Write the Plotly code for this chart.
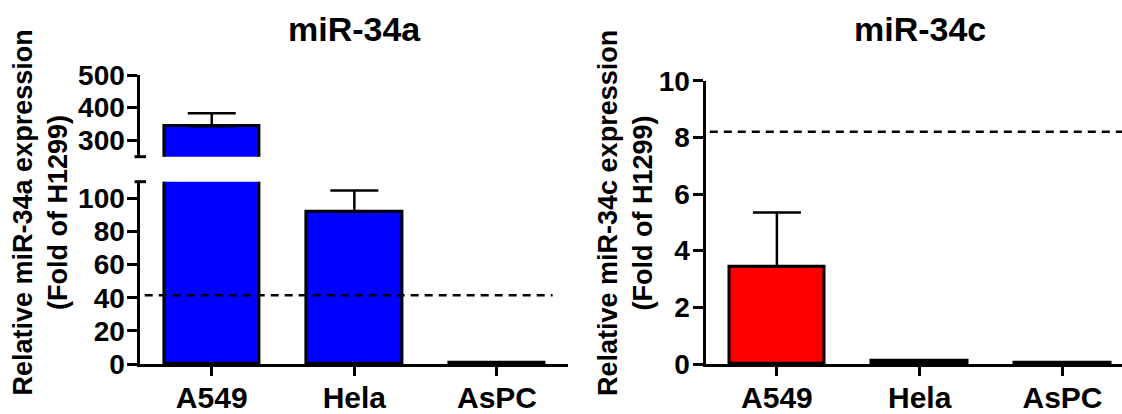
import plotly.graph_objects as go

# ---------------- data ----------------
categories = ["A549", "Hela", "AsPC"]
mir34a_mean = [343, 92, 0.9]
mir34a_err = [40, 12.7, 0]
mir34c_mean = [3.45, 0.12, 0.04]
mir34c_err = [1.9, 0, 0]
ref_a = 41.5          # dashed reference level (miR-34a)
ref_c = 8.2           # dashed reference level (miR-34c)
ticks_a_low = [0, 20, 40, 60, 80, 100]
ticks_a_high = [300, 400, 500]
ticks_c = [0, 2, 4, 6, 8, 10]
titles = ["miR-34a", "miR-34c"]
ytitles = ["Relative miR-34a expression<br>(Fold of H1299)",
           "Relative miR-34c expression<br>(Fold of H1299)"]

# ---------------- layout constants ----------------
W, H = 1122, 414
FONT = "Liberation Sans, Arial, Helvetica, sans-serif"
BLUE = "#0000FF"
RED = "#FF0000"

def px_x(p):
    return p / W

def px_y(p):
    return 1 - p / H

left_dom = [px_x(140.4), px_x(568.3)]
right_dom = [px_x(705.5), 1.0]
low_dom = [px_y(364), px_y(181.7)]
high_dom = [px_y(156.7), px_y(75)]
right_ydom = [px_y(364), px_y(80.7)]

bar_w = 0.67
err_style = dict(type="data", symmetric=False, arrayminus=[0, 0, 0],
                 color="black", thickness=2.5, width=24)

fig = go.Figure()

# left panel, lower part
fig.add_trace(go.Bar(x=categories, y=mir34a_mean, xaxis="x", yaxis="y",
                     width=bar_w, marker=dict(color=BLUE, line=dict(color="black", width=3)),
                     error_y=dict(array=mir34a_err, **err_style), showlegend=False))
# left panel, upper part (broken axis)
fig.add_trace(go.Bar(x=categories, y=mir34a_mean, xaxis="x2", yaxis="y2",
                     width=bar_w, marker=dict(color=BLUE, line=dict(color="black", width=3)),
                     error_y=dict(array=mir34a_err, **err_style), showlegend=False))
# right panel
fig.add_trace(go.Bar(x=categories, y=mir34c_mean, xaxis="x3", yaxis="y3",
                     width=bar_w, marker=dict(color=RED, line=dict(color="black", width=3)),
                     error_y=dict(array=mir34c_err, **err_style), showlegend=False))

axis_common = dict(showline=True, linecolor="black", linewidth=3, showgrid=False,
                   zeroline=False, ticks="outside", tickcolor="black", tickwidth=3,
                   automargin=False)

tickfont_y = dict(family=FONT, size=28, color="black", weight="bold")
tickfont_x = dict(family=FONT, size=30, color="black", weight="bold")

fig.update_layout(
    template="none",
    width=W, height=H,
    margin=dict(l=0, r=0, t=0, b=0, autoexpand=False),
    paper_bgcolor="white", plot_bgcolor="white",
    showlegend=False,
    bargap=0,
    xaxis=dict(domain=left_dom, anchor="y", type="category", range=[-0.5, 2.5],
               ticklen=9, tickfont=tickfont_x, ticklabelstandoff=-4, **axis_common),
    yaxis=dict(domain=low_dom, anchor="x", range=[0, 110], tickvals=ticks_a_low,
               ticklen=10, tickfont=tickfont_y, ticklabelstandoff=-3, **axis_common),
    xaxis2=dict(domain=left_dom, anchor="y2", type="category", range=[-0.5, 2.5],
                visible=False, matches="x"),
    yaxis2=dict(domain=high_dom, anchor="x2", range=[250, 500], tickvals=ticks_a_high,
                ticklen=10, tickfont=tickfont_y, ticklabelstandoff=-3, **axis_common),
    xaxis3=dict(domain=right_dom, anchor="y3", type="category",
                range=[-0.5, (W - 705.5) / 142.8 - 0.5],
                ticklen=9, tickfont=tickfont_x, ticklabelstandoff=-4, **axis_common),
    yaxis3=dict(domain=right_ydom, anchor="x3", range=[0, 10], tickvals=ticks_c,
                ticklen=10, tickfont=tickfont_y, ticklabelstandoff=-3, **axis_common),
)

# dashed reference lines
fig.add_shape(type="line", xref="x", yref="y", x0=-0.47, x1=2.39, y0=ref_a, y1=ref_a,
              line=dict(color="black", width=2.5, dash="8px,6px"), layer="above")
fig.add_shape(type="line", xref="x3", yref="y3", x0=-0.47, x1=2.6, y0=ref_c, y1=ref_c,
              line=dict(color="black", width=2.5, dash="8px,6px"), layer="above")

# axis break caps (decoration on the broken axis ends)
for yp in (156.7, 181.7):
    fig.add_shape(type="line", xref="paper", yref="paper",
                  x0=px_x(134.5), x1=px_x(146), y0=px_y(yp), y1=px_y(yp),
                  line=dict(color="black", width=3))

# panel titles
fig.add_annotation(text=titles[0], xref="x domain", yref="paper", x=0.5, y=px_y(29),
                   showarrow=False, xanchor="center", yanchor="middle",
                   font=dict(family=FONT, size=34, color="black", weight="bold"))
fig.add_annotation(text=titles[1], xref="x3", yref="paper", x=1, y=px_y(29),
                   showarrow=False, xanchor="center", yanchor="middle",
                   font=dict(family=FONT, size=34, color="black", weight="bold"))

# y-axis titles
for xc, t in zip((40.5, 626), ytitles):
    fig.add_annotation(text=t, xref="paper", yref="paper", x=px_x(xc), y=px_y(213),
                       showarrow=False, xanchor="center", yanchor="middle", textangle=-90,
                       font=dict(family=FONT, size=27, color="black", weight="bold"))

fig.write_html("out.html")
